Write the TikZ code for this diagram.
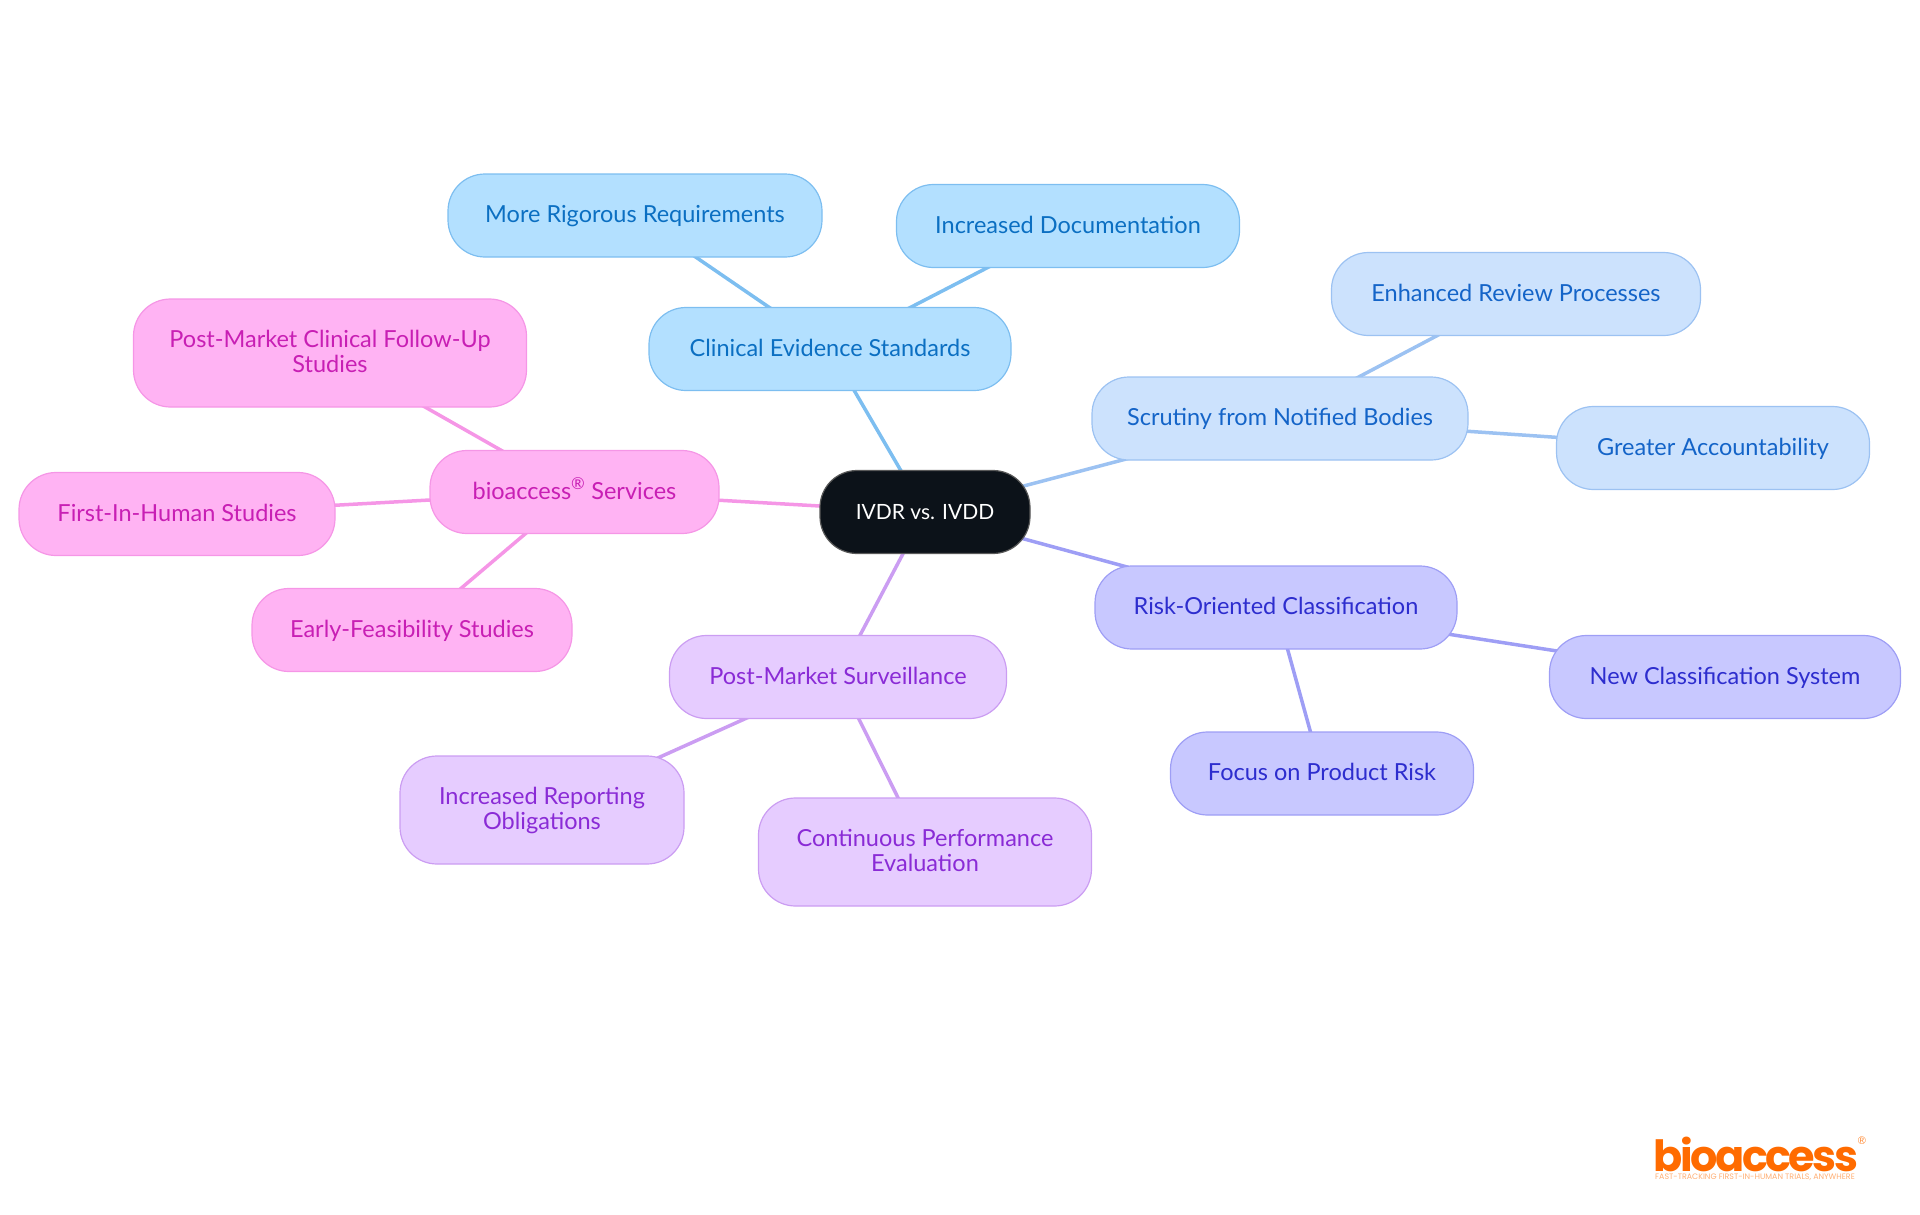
\documentclass[tikz,border=0pt]{standalone}
\usepackage{fontspec}
\setmainfont{Lato}
\newfontfamily\logofont[LetterSpace=-6]{Poppins}
\newfontfamily\lemafont{Poppins}
\usetikzlibrary{backgrounds}
\definecolor{azulfondo}{HTML}{B3E0FF}
\definecolor{azulborde}{HTML}{7DBEF0}
\definecolor{azultexto}{HTML}{0B6FC2}
\definecolor{celestefondo}{HTML}{CCE2FD}
\definecolor{celesteborde}{HTML}{9CC2F2}
\definecolor{celestetexto}{HTML}{1464C8}
\definecolor{indigofondo}{HTML}{C8C8FF}
\definecolor{indigoborde}{HTML}{9E9EF5}
\definecolor{indigotexto}{HTML}{2D2DCE}
\definecolor{lilafondo}{HTML}{E6CCFF}
\definecolor{lilaborde}{HTML}{CB9DF2}
\definecolor{lilatexto}{HTML}{8A2BD6}
\definecolor{rosafondo}{HTML}{FFB3F3}
\definecolor{rosaborde}{HTML}{F596E6}
\definecolor{rosatexto}{HTML}{C81FB4}
\definecolor{naranja}{HTML}{FF6B00}
\definecolor{noche}{HTML}{0C1219}
\begin{document}
\begin{tikzpicture}[x=1pt, y=-1pt,
        caja/.style={draw, line width=1.2pt, rounded corners=37pt, align=center, inner sep=0pt, minimum height=83pt, text height=18pt, text depth=4pt, font=\fontsize{23.5}{25}\selectfont},
        doble/.style={caja, minimum height=108pt, text height=43pt},
        azul/.style={fill=azulfondo, draw=azulborde, text=azultexto},
        celeste/.style={fill=celestefondo, draw=celesteborde, text=celestetexto},
        indigo/.style={fill=indigofondo, draw=indigoborde, text=indigotexto},
        lila/.style={fill=lilafondo, draw=lilaborde, text=lilatexto},
        rosa/.style={fill=rosafondo, draw=rosaborde, text=rosatexto},
        linea/.style={line width=3.5pt}]
    \useasboundingbox (0,0) rectangle (1920,1215);
    \node[caja, fill=noche, draw=gray!70!black, text=white, minimum width=210pt, font=\fontsize{21}{25}\selectfont] (raiz) at (925,512) {IVDR vs. IVDD};
    \node[caja, azul, minimum width=362pt] (clinica) at (830,349) {Clinical Evidence Standards};
    \node[caja, azul, minimum width=374pt] (rigor) at (635,215.5) {More Rigorous Requirements};
    \node[caja, azul, minimum width=343pt] (docu) at (1068,226) {Increased Documentation};
    \node[caja, celeste, minimum width=376pt] (escrutinio) at (1280,418.5) {Scrutiny from Notified Bodies};
    \node[caja, celeste, minimum width=369pt] (revision) at (1516,294) {Enhanced Review Processes};
    \node[caja, celeste, minimum width=313pt] (cuentas) at (1713,448) {Greater Accountability};
    \node[caja, indigo, minimum width=362pt] (riesgo) at (1276,607.5) {Risk-Oriented Classification};
    \node[caja, indigo, minimum width=351pt] (sistema) at (1725,677) {New Classification System};
    \node[caja, indigo, minimum width=303pt] (producto) at (1322,773.5) {Focus on Product Risk};
    \node[caja, lila, minimum width=337pt] (vigilancia) at (838,677) {Post-Market Surveillance};
    \node[doble, lila, minimum width=284pt] (reportes) at (542,810) {Increased Reporting\\Obligations};
    \node[doble, lila, minimum width=333pt] (continua) at (925,852) {Continuous Performance\\Evaluation};
    \node[caja, rosa, minimum width=289pt] (servicios) at (574.5,492) {bioaccess\smash{\textsuperscript{®}} Services};
    \node[doble, rosa, minimum width=393pt] (clinicos) at (330,353) {Post-Market Clinical Follow-Up\\Studies};
    \node[caja, rosa, minimum width=316pt] (humanos) at (177,514) {First-In-Human Studies};
    \node[caja, rosa, minimum width=320pt] (tempranos) at (412,630) {Early-Feasibility Studies};
    \begin{scope}[on background layer]
        \draw[linea, azulborde] (raiz.center) -- (clinica.center);
        \draw[linea, azulborde] (clinica.center) -- (rigor.center);
        \draw[linea, azulborde] (clinica.center) -- (docu.center);
        \draw[linea, celesteborde] (raiz.center) -- (escrutinio.center);
        \draw[linea, celesteborde] (escrutinio.center) -- (revision.center);
        \draw[linea, celesteborde] (escrutinio.center) -- (cuentas.center);
        \draw[linea, indigoborde] (raiz.center) -- (riesgo.center);
        \draw[linea, indigoborde] (riesgo.center) -- (sistema.center);
        \draw[linea, indigoborde] (riesgo.center) -- (producto.center);
        \draw[linea, lilaborde] (raiz.center) -- (vigilancia.center);
        \draw[linea, lilaborde] (vigilancia.center) -- (reportes.center);
        \draw[linea, lilaborde] (vigilancia.center) -- (continua.center);
        \draw[linea, rosaborde] (raiz.center) -- (servicios.center);
        \draw[linea, rosaborde] (servicios.center) -- (clinicos.center);
        \draw[linea, rosaborde] (servicios.center) -- (humanos.center);
        \draw[linea, rosaborde] (servicios.center) -- (tempranos.center);
    \end{scope}
    \node[text=naranja, anchor=base, font=\logofont\bfseries\fontsize{43}{44}\selectfont, inner sep=0pt] (marca) at (1756,1171) {bioaccess};
    \node[text=naranja, font=\sffamily\fontsize{11}{11}\selectfont, inner sep=0pt] (registro) at (1862,1141) {®};
    \node[text=naranja!55, font=\lemafont\fontsize{7.9}{8}\selectfont, inner sep=0pt] (lema) at (1755,1177.5) {FAST-TRACKING FIRST-IN-HUMAN TRIALS, ANYWHERE};
\end{tikzpicture}
\end{document}
